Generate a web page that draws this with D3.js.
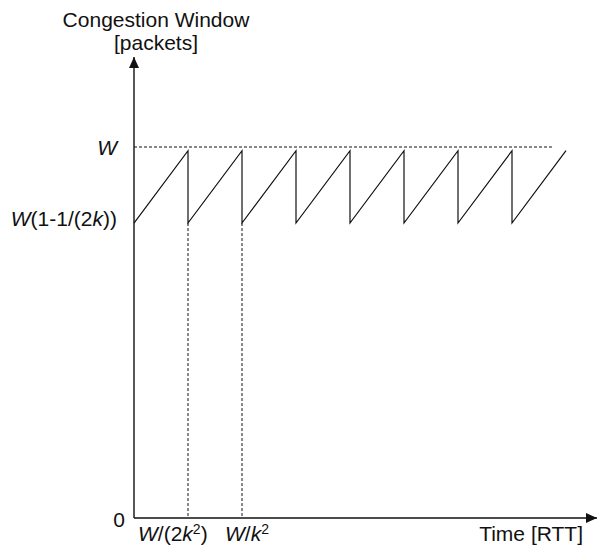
<!DOCTYPE html>
<html>
<head>
<meta charset="utf-8">
<script src="https://cdn.jsdelivr.net/npm/d3@7"></script>
<style>
  html, body { margin: 0; padding: 0; background: #fff; }
  svg { display: block; }
  text { font-family: "Liberation Sans", Arial, Helvetica, sans-serif; fill: #111; }
</style>
</head>
<body>
<svg id="chart" width="597" height="545"></svg>
<script>
// Sawtooth congestion window (time in units of one sawtooth period, window relative to W)
const sawTime   = [0, 1, 1, 2, 2, 3, 3, 4, 4, 5, 5, 6, 6, 7, 7, 8];
const sawWindow = [0.795, 0.99, 0.795, 0.99, 0.795, 0.99, 0.795, 0.99,
                   0.795, 0.99, 0.795, 0.99, 0.795, 0.99, 0.795, 0.99];

// Reference levels on the window axis
const levelValues = [1, 0.795, 0];
const levelNames  = ["W", "W(1-1/(2k))", "0"];

// Marked instants on the time axis (end of first and second ramp)
const markTimes = [1, 2];
const markNames = ["W/(2k²)", "W/k²"];

// Horizontal reference at W spans this time range
const refLineEnd = 7.74;

const axisTitles = { y: ["Congestion Window", "[packets]"], x: "Time [RTT]" };

const svg = d3.select("#chart");

const x = d3.scaleLinear().domain([0, 1]).range([134, 188]);
const y = d3.scaleLinear().domain([0, 1]).range([518, 147]);

const xMax = x.invert(597);
const yMax = y.invert(57);
const ink = "#111";

// arrowheads
const defs = svg.append("defs");
defs.append("marker")
  .attr("id", "arrow")
  .attr("viewBox", "0 0 11 10")
  .attr("refX", 11).attr("refY", 5)
  .attr("markerWidth", 11).attr("markerHeight", 10)
  .attr("markerUnits", "userSpaceOnUse")
  .attr("orient", "auto")
  .append("path").attr("d", "M0,0 L11,5 L0,10 Z").attr("fill", ink);

// axes
svg.append("line")
  .attr("x1", x(0)).attr("y1", y(0)).attr("x2", x(xMax)).attr("y2", y(0))
  .attr("stroke", ink).attr("stroke-width", 1.4).attr("marker-end", "url(#arrow)");
svg.append("line")
  .attr("x1", x(0)).attr("y1", y(0)).attr("x2", x(0)).attr("y2", y(yMax))
  .attr("stroke", ink).attr("stroke-width", 1.4).attr("marker-end", "url(#arrow)");

// dashed reference at W
svg.append("line")
  .attr("x1", x(0)).attr("y1", y(levelValues[0]))
  .attr("x2", x(refLineEnd)).attr("y2", y(levelValues[0]))
  .attr("stroke", ink).attr("stroke-width", 1).attr("stroke-dasharray", "3,2");

// dashed drops from the marked instants to the time axis
svg.selectAll("line.mark").data(markTimes).join("line")
  .attr("class", "mark")
  .attr("x1", d => x(d)).attr("x2", d => x(d))
  .attr("y1", y(levelValues[1])).attr("y2", y(0))
  .attr("stroke", ink).attr("stroke-width", 1).attr("stroke-dasharray", "3,2");

// sawtooth
const pts = sawTime.map((t, i) => [t, sawWindow[i]]);
svg.append("path")
  .attr("d", d3.line().x(d => x(d[0])).y(d => y(d[1]))(pts))
  .attr("fill", "none").attr("stroke", ink).attr("stroke-width", 1.2)
  .attr("stroke-linejoin", "miter");

const fs = 21;

// writes a label with italic W and k, and ² as a raised small digit
function richText(sel, str) {
  for (const ch of str) {
    if (ch === "W" || ch === "k") {
      sel.append("tspan").attr("font-style", "italic").text(ch);
    } else if (ch === "²") {
      sel.append("tspan").attr("font-size", 14).attr("baseline-shift", "7").text("2");
    } else {
      sel.append("tspan").text(ch);
    }
  }
}

// window axis labels
const levelDy = [8, 3, 9];
const levelDx = [-17, -17, -9];
levelValues.forEach((v, i) => {
  const t = svg.append("text")
    .attr("x", x(0) + levelDx[i]).attr("y", y(v) + levelDy[i])
    .attr("text-anchor", "end").attr("font-size", fs);
  richText(t, levelNames[i]);
});

// time axis labels
const markDx = [-50, -17];
markTimes.forEach((m, i) => {
  const t = svg.append("text")
    .attr("x", x(m) + markDx[i]).attr("y", y(0) + 23)
    .attr("text-anchor", "start").attr("font-size", fs);
  richText(t, markNames[i]);
});

// axis titles
svg.append("text").attr("x", 583).attr("y", 541)
  .attr("text-anchor", "end").attr("font-size", fs).text(axisTitles.x);
axisTitles.y.forEach((s, i) => {
  svg.append("text").attr("x", 156).attr("y", 27 + 23 * i)
    .attr("text-anchor", "middle").attr("font-size", fs).text(s);
});
</script>
</body>
</html>
